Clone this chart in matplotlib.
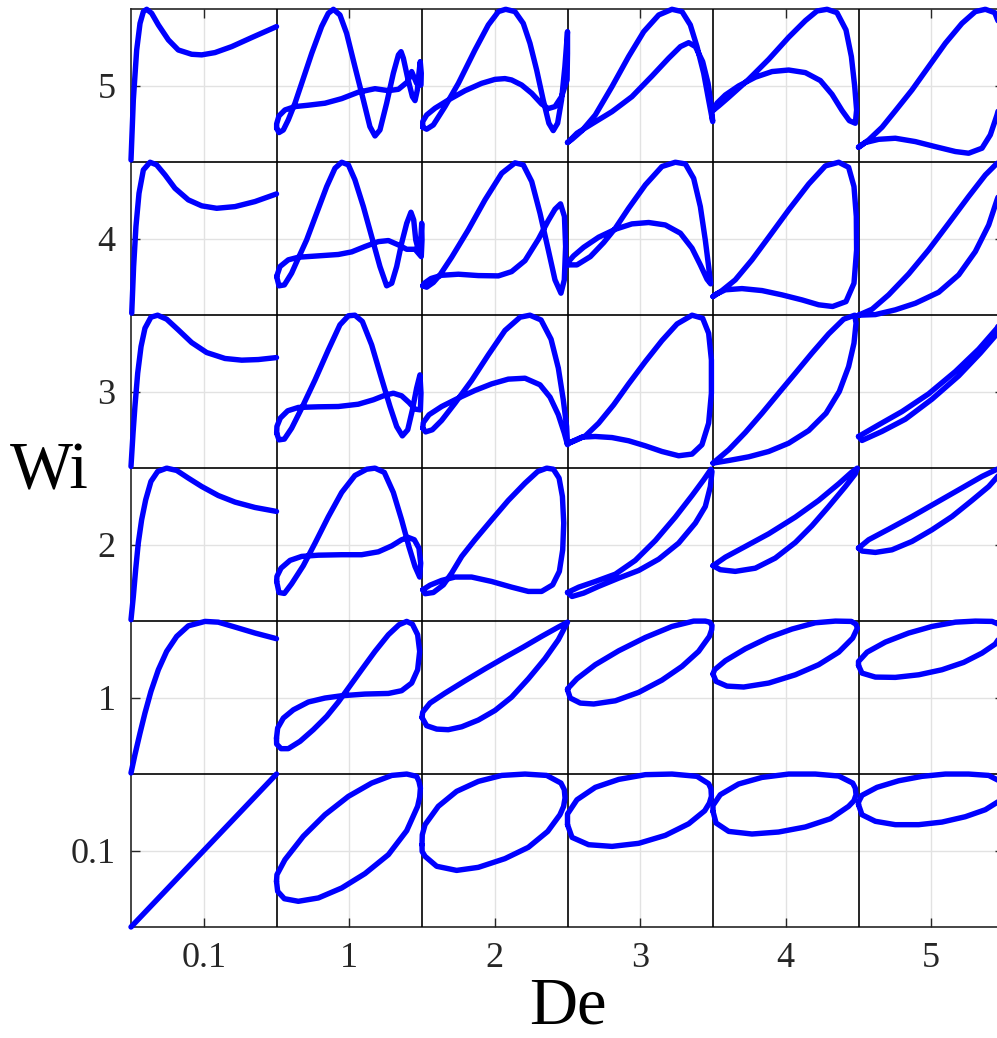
import numpy as np
import matplotlib.pyplot as plt

plt.rcParams['font.family'] = ['Liberation Serif', 'DejaVu Serif']

de_labels = ['0.1', '1', '2', '3', '4', '5']
wi_labels = ['0.1', '1', '2', '3', '4', '5']

# each curve: (shear rate, stress) normalised to 0..1 inside its own cell
# first column (De = 0.1) is an open start-up curve, the others are closed loops

## Wi = 5 ##
wi5_de01 = np.array([(0, .015), (.016, .407), (.039, .734), (.062, .908), (.085, .985), (.108, 1.0),
                     (.142, .974), (.188, .898), (.257, .80), (.325, .734), (.417, .706), (.486, .702),
                     (.577, .717), (.692, .756), (.829, .815), (1.0, .887)])
wi5_de1 = np.array([(.001, .222), (.017, .194), (.047, .211), (.081, .277), (.127, .386), (.173, .516),
                    (.242, .712), (.310, .887), (.356, .974), (.391, 1.0), (.436, .963), (.482, .843),
                    (.539, .625), (.597, .407), (.642, .233), (.677, .172), (.711, .211), (.757, .386),
                    (.803, .582), (.838, .702), (.856, .723), (.872, .680), (.902, .549), (.934, .429),
                    (.952, .403), (.968, .473), (.979, .582), (.988, .658), (.995, .582), (.993, .505),
                    (.963, .516), (.929, .593), (.902, .527), (.838, .477), (.769, .468), (.677, .481),
                    (.562, .458), (.448, .416), (.333, .386), (.219, .373), (.127, .364), (.058, .342),
                    (.017, .303), (.001, .251)])
wi5_de2 = np.array([(.005, .229), (.032, .216), (.078, .244), (.158, .364), (.250, .516), (.364, .734),
                    (.456, .898), (.525, .985), (.575, 1.0), (.639, .985), (.696, .908), (.742, .778),
                    (.788, .603), (.833, .407), (.872, .255), (.902, .207), (.932, .255), (.959, .407),
                    (.982, .625), (.996, .800), (1.0, .854), (1.0, .712), (.997, .538), (.959, .429),
                    (.914, .364), (.868, .351), (.822, .381), (.754, .451), (.685, .505), (.616, .538),
                    (.570, .547), (.502, .542), (.410, .516), (.296, .468), (.181, .407), (.089, .353),
                    (.032, .309), (.005, .266)])
wi5_de3 = np.array([(0, .129), (.031, .150), (.100, .207), (.191, .309), (.306, .495), (.420, .691),
                    (.524, .854), (.627, .963), (.718, 1.0), (.787, .985), (.844, .898), (.890, .756),
                    (.936, .582), (.970, .407), (.998, .266), (.989, .364), (.966, .516), (.929, .658),
                    (.879, .756), (.833, .782), (.776, .756), (.695, .680), (.581, .564), (.443, .429),
                    (.306, .331), (.168, .251), (.065, .190), (.008, .135)])
wi5_de4 = np.array([(.005, .342), (.039, .368), (.108, .425), (.245, .542), (.383, .673), (.520, .817),
                    (.635, .926), (.715, .989), (.784, 1.0), (.852, .978), (.914, .865), (.951, .691),
                    (.974, .495), (.987, .342), (.978, .255), (.937, .272), (.887, .338), (.818, .444),
                    (.738, .534), (.635, .586), (.520, .603), (.406, .593), (.291, .556), (.176, .499),
                    (.085, .440), (.027, .386)])
wi5_de5 = np.array([(0, .098), (.070, .146), (.162, .229), (.253, .336), (.368, .473), (.482, .625),
                    (.597, .778), (.711, .908), (.803, .985), (.872, 1.0), (.936, .978), (.975, .887),
                    (.995, .734), (1.0, .582), (.986, .429), (.952, .309), (.906, .179), (.849, .092),
                    (.757, .059), (.666, .070), (.528, .102), (.391, .135), (.253, .157), (.139, .150),
                    (.047, .129)])

## Wi = 4 ##
wi4_de01 = np.array([(.005, .013), (.018, .318), (.034, .580), (.055, .797), (.085, .950), (.131, 1.0),
                     (.176, .983), (.234, .917), (.302, .830), (.394, .754), (.486, .715), (.589, .699),
                     (.715, .710), (.852, .743), (1.0, .793)])
wi4_de1 = np.array([(.001, .253), (.017, .192), (.054, .198), (.104, .275), (.150, .373), (.207, .492),
                    (.276, .667), (.345, .841), (.402, .961), (.448, 1.0), (.494, .983), (.539, .885),
                    (.597, .710), (.654, .514), (.711, .318), (.757, .192), (.792, .209), (.826, .318),
                    (.860, .471), (.895, .601), (.924, .673), (.943, .623), (.957, .492), (.975, .427),
                    (.993, .514), (.998, .601), (1.0, .492), (.995, .383), (.952, .431), (.895, .431),
                    (.837, .460), (.769, .488), (.700, .481), (.608, .449), (.517, .414), (.425, .397),
                    (.288, .388), (.150, .379), (.081, .362), (.024, .318)])
wi4_de2 = np.array([(.005, .192), (.032, .183), (.078, .214), (.124, .264), (.204, .379), (.318, .558),
                    (.433, .754), (.548, .928), (.639, .996), (.696, .983), (.754, .874), (.811, .667),
                    (.868, .427), (.914, .231), (.955, .144), (.978, .231), (.987, .449), (.979, .645),
                    (.952, .728), (.914, .693), (.868, .619), (.800, .497), (.708, .357), (.616, .285),
                    (.525, .257), (.387, .259), (.250, .268), (.135, .261), (.062, .240), (.016, .209)])
wi4_de3 = np.array([(.003, .329), (.065, .329), (.157, .383), (.249, .475), (.329, .569), (.420, .699),
                    (.535, .852), (.649, .972), (.741, 1.0), (.810, .989), (.867, .895), (.913, .710),
                    (.947, .492), (.970, .318), (.984, .205), (.959, .235), (.913, .329), (.856, .438),
                    (.776, .536), (.672, .590), (.558, .606), (.443, .597), (.329, .562), (.214, .510),
                    (.111, .444), (.042, .388), (.008, .351)])
wi4_de4 = np.array([(0, .122), (.062, .161), (.153, .231), (.268, .362), (.383, .510), (.520, .688),
                    (.658, .858), (.772, .976), (.864, 1.0), (.932, .967), (.969, .841), (.985, .645),
                    (.987, .427), (.969, .209), (.914, .089), (.822, .057), (.726, .068), (.612, .100),
                    (.474, .133), (.337, .161), (.199, .174), (.085, .166), (.016, .135)])
wi4_de5 = np.array([(0, 0), (.093, .039), (.207, .133), (.345, .270), (.482, .427), (.620, .601),
                    (.757, .776), (.872, .917), (.952, .993), (.986, 1.0), (1.0, .950), (.986, .841),
                    (.952, .754), (.895, .590), (.803, .416), (.689, .264), (.551, .150), (.391, .078),
                    (.253, .035), (.116, .004)])

## Wi = 3 ##
wi3_de01 = np.array([(0, .011), (.014, .229), (.027, .403), (.046, .621), (.069, .795), (.096, .915),
                     (.137, .987), (.183, 1.0), (.245, .974), (.325, .904), (.417, .821), (.520, .756),
                     (.646, .717), (.761, .706), (.875, .710), (1.0, .723)])
wi3_de1 = np.array([(.001, .229), (.017, .185), (.054, .190), (.104, .261), (.173, .392), (.265, .577),
                    (.356, .773), (.436, .937), (.494, .996), (.539, 1.0), (.590, .959), (.654, .806),
                    (.718, .599), (.780, .403), (.826, .272), (.865, .211), (.902, .251), (.934, .381),
                    (.963, .523), (.986, .610), (.993, .490), (.989, .381), (.952, .386), (.911, .429),
                    (.860, .473), (.803, .490), (.746, .477), (.666, .447), (.562, .418), (.425, .403),
                    (.288, .401), (.150, .397), (.077, .375), (.026, .327), (.003, .273)])
wi3_de2 = np.array([(.005, .261), (.025, .237), (.071, .251), (.135, .312), (.227, .425), (.341, .573),
                    (.456, .741), (.570, .900), (.674, .987), (.742, 1.0), (.818, .969), (.887, .843),
                    (.937, .654), (.971, .447), (.994, .272), (1.0, .153), (.978, .229), (.937, .349),
                    (.880, .464), (.811, .545), (.708, .588), (.593, .582), (.479, .551), (.364, .508),
                    (.250, .458), (.135, .403), (.048, .349), (.009, .298)])
wi3_de3 = np.array([(0, .159), (.054, .181), (.123, .211), (.214, .294), (.317, .414), (.420, .551),
                    (.535, .697), (.649, .834), (.753, .943), (.856, 1.0), (.929, .980), (.970, .882),
                    (.989, .708), (.989, .490), (.970, .294), (.924, .153), (.856, .092), (.764, .081),
                    (.649, .109), (.535, .146), (.420, .179), (.306, .200), (.191, .207), (.100, .203),
                    (.031, .174)])
wi3_de4 = np.array([(0, .033), (.108, .120), (.222, .233), (.337, .359), (.451, .490), (.566, .621),
                    (.680, .752), (.795, .878), (.898, .974), (.974, 1.0), (.983, .948), (.969, .817),
                    (.932, .664), (.868, .501), (.777, .359), (.658, .246), (.520, .163), (.383, .109),
                    (.245, .074), (.108, .050)])
wi3_de5 = np.array([(0, .207), (.138, .283), (.299, .370), (.482, .486), (.666, .632), (.826, .778),
                    (.952, .915), (1.0, 1.0), (.952, .878), (.837, .752), (.688, .603), (.505, .451),
                    (.322, .320), (.161, .240), (.024, .181)])

## Wi = 2 ##
wi2_de01 = np.array([(0, .009), (.016, .161), (.032, .336), (.050, .510), (.073, .662), (.101, .793),
                     (.137, .913), (.183, .978), (.245, 1.0), (.314, .985), (.394, .935), (.486, .880),
                     (.600, .821), (.715, .778), (.852, .743), (1.0, .717)])
wi2_de1 = np.array([(.001, .259), (.017, .187), (.054, .181), (.104, .244), (.184, .362), (.265, .510),
                    (.356, .682), (.448, .841), (.539, .952), (.620, .993), (.677, 1.0), (.741, .972),
                    (.803, .841), (.860, .662), (.911, .484), (.952, .357), (.984, .288), (.991, .379),
                    (.979, .477), (.947, .532), (.906, .547), (.860, .532), (.792, .492), (.700, .453),
                    (.585, .434), (.448, .434), (.288, .431), (.173, .423), (.093, .397), (.031, .346),
                    (.003, .292)])
wi2_de2 = np.array([(.005, .205), (.055, .235), (.135, .266), (.227, .288), (.341, .288), (.479, .259),
                    (.616, .222), (.731, .194), (.822, .194), (.898, .237), (.944, .325), (.967, .466),
                    (.974, .641), (.965, .815), (.942, .935), (.903, .993), (.857, 1.0), (.795, .978),
                    (.708, .902), (.593, .789), (.479, .662), (.364, .532), (.273, .423), (.204, .314),
                    (.147, .237), (.078, .187), (.021, .179)])
wi2_de3 = np.array([(0, .187), (.077, .222), (.191, .259), (.329, .307), (.466, .397), (.604, .527),
                    (.741, .680), (.856, .821), (.936, .924), (.986, .993), (.993, .978), (.982, .880),
                    (.947, .749), (.879, .641), (.764, .510), (.627, .405), (.489, .331), (.352, .281),
                    (.214, .227), (.111, .183), (.031, .161)])
wi2_de4 = np.array([(0, .362), (.085, .418), (.222, .488), (.383, .571), (.566, .680), (.726, .789),
                    (.864, .898), (.951, .972), (.992, 1.0), (.978, .963), (.910, .880), (.795, .749),
                    (.680, .623), (.566, .514), (.428, .412), (.291, .346), (.153, .325), (.050, .336)])
wi2_de5 = np.array([(0, .477), (.070, .532), (.207, .601), (.368, .684), (.528, .771), (.688, .858),
                    (.849, .946), (.952, .993), (1.0, 1.0), (.952, .941), (.895, .880), (.780, .789),
                    (.643, .684), (.505, .597), (.368, .521), (.230, .466), (.116, .449), (.024, .458)])

## Wi = 1 ##
wi1_de01 = np.array([(0, .007), (.027, .126), (.062, .268), (.096, .399), (.137, .540), (.188, .682),
                     (.245, .802), (.314, .900), (.394, .969), (.509, .998), (.600, .993), (.715, .961),
                     (.852, .922), (1.0, .885)])
wi1_de1 = np.array([(0, .235), (.008, .301), (.047, .366), (.116, .420), (.219, .471), (.333, .497),
                    (.448, .512), (.608, .523), (.769, .527), (.860, .545), (.929, .595), (.970, .682),
                    (.984, .802), (.970, .911), (.934, .980), (.895, .998), (.842, .976), (.769, .911),
                    (.677, .802), (.585, .682), (.494, .562), (.425, .471), (.345, .377), (.253, .290),
                    (.162, .214), (.081, .166), (.031, .166), (.001, .196)])
wi1_de2 = np.array([(0, .370), (.032, .316), (.101, .294), (.181, .290), (.273, .309), (.387, .353),
                    (.502, .416), (.616, .503), (.731, .623), (.845, .754), (.937, .878), (1.0, .993),
                    (.937, .961), (.822, .900), (.696, .830), (.570, .763), (.433, .688), (.296, .610),
                    (.158, .529), (.055, .464), (.005, .405)])
wi1_de3 = np.array([(0, .551), (.019, .497), (.088, .464), (.180, .458), (.329, .479), (.489, .534),
                    (.649, .614), (.787, .704), (.901, .802), (.975, .900), (.991, .944), (.993, .972),
                    (.977, .993), (.947, 1.0), (.867, 1.0), (.718, .965), (.535, .893), (.352, .806),
                    (.191, .715), (.065, .623), (.001, .558)])
wi1_de4 = np.array([(0, .654), (.021, .606), (.096, .575), (.211, .569), (.383, .595), (.566, .649),
                    (.726, .715), (.864, .797), (.960, .889), (.992, .954), (.982, .980), (.951, .998),
                    (.841, 1.0), (.703, .989), (.543, .948), (.383, .893), (.222, .819), (.085, .741),
                    (.011, .682)])
wi1_de5 = np.array([(0, .710), (.024, .660), (.116, .634), (.253, .632), (.414, .649), (.574, .682),
                    (.723, .730), (.849, .791), (.940, .850), (.991, .922), (.982, .972), (.918, .998),
                    (.803, 1.0), (.666, .993), (.505, .965), (.345, .922), (.185, .863), (.059, .797),
                    (0, .736)])

## Wi = 0.1 ##
wi01_de01 = np.array([(0, 0), (.25, .25), (.5, .5), (.75, .75), (1.0, 1.0)])
wi01_de1 = np.array([(0, .298), (.008, .233), (.054, .185), (.150, .168), (.288, .190), (.448, .255),
                     (.608, .349), (.769, .473), (.895, .630), (.970, .789), (.984, .849), (.989, .908),
                     (.979, .952), (.963, .985), (.895, 1.0), (.792, .991), (.654, .941), (.494, .854),
                     (.333, .734), (.184, .593), (.058, .440), (.003, .342)])
wi01_de2 = np.array([(0, .538), (.001, .494), (.021, .462), (.101, .397), (.238, .370), (.387, .390),
                     (.570, .447), (.731, .521), (.864, .625), (.948, .734), (.973, .788), (.983, .843),
                     (.978, .898), (.955, .941), (.857, .991), (.708, 1.0), (.548, .991), (.387, .952),
                     (.238, .887), (.112, .789), (.021, .669), (.002, .603)])
wi01_de3 = np.array([(0, .669), (.031, .586), (.145, .538), (.306, .527), (.489, .547), (.672, .599),
                     (.833, .675), (.943, .760), (.975, .810), (.989, .854), (.986, .904), (.970, .937),
                     (.890, .985), (.718, 1.0), (.535, .996), (.352, .965), (.191, .913), (.065, .832),
                     (0, .739), (0, .702)])
wi01_de4 = np.array([(0, .756), (.021, .680), (.108, .625), (.268, .608), (.451, .621), (.635, .654),
                     (.807, .708), (.932, .789), (.969, .826), (.983, .865), (.978, .908), (.960, .941),
                     (.864, .987), (.703, 1.0), (.520, 1.0), (.337, .978), (.176, .935), (.050, .865),
                     (0, .795)])
wi01_de5 = np.array([(0, .800), (.024, .734), (.116, .691), (.253, .669), (.414, .669), (.574, .686),
                     (.734, .721), (.872, .767), (.963, .821), (1.0, .887), (.975, .952), (.895, .991),
                     (.757, 1.0), (.597, 1.0), (.437, .985), (.276, .956), (.127, .913), (.024, .861),
                     (0, .817)])

# rows from the bottom (Wi = 0.1) to the top (Wi = 5), columns De = 0.1 ... 5
curves = [
    [wi01_de01, wi01_de1, wi01_de2, wi01_de3, wi01_de4, wi01_de5],
    [wi1_de01, wi1_de1, wi1_de2, wi1_de3, wi1_de4, wi1_de5],
    [wi2_de01, wi2_de1, wi2_de2, wi2_de3, wi2_de4, wi2_de5],
    [wi3_de01, wi3_de1, wi3_de2, wi3_de3, wi3_de4, wi3_de5],
    [wi4_de01, wi4_de1, wi4_de2, wi4_de3, wi4_de4, wi4_de5],
    [wi5_de01, wi5_de1, wi5_de2, wi5_de3, wi5_de4, wi5_de5],
]

fig = plt.figure(figsize=(9.97, 10.38), dpi=100)
ax = fig.add_axes([131 / 997, 111 / 1038, 873 / 997, 917.7 / 1038])

for r, row in enumerate(curves):
    for c, pts in enumerate(row):
        if c > 0:
            pts = np.vstack([pts, pts[:1]])
        ax.plot(c + pts[:, 0], r + pts[:, 1], color=(0, 0, 1), lw=3.9,
                solid_joinstyle='round', solid_capstyle='round', clip_on=False, zorder=4)

# cell borders
for k in range(1, 6):
    ax.axvline(k, color='black', lw=1.2, zorder=3)
    ax.axhline(k, color='black', lw=1.2, zorder=3)

ax.set_xlim(0, 6)
ax.set_ylim(0, 6)
ax.set_xticks(np.arange(6) + 0.5)
ax.set_xticklabels(de_labels)
ax.set_yticks(np.arange(6) + 0.5)
ax.set_yticklabels(wi_labels)
ax.grid(True, color='#e2e2e2', lw=1.0, zorder=0)
ax.set_axisbelow(True)
ax.tick_params(direction='in', length=6.5, width=1, top=True, right=True,
               colors='#262626', labelsize=26, pad=11)
for s in ax.spines.values():
    s.set_color('#262626')
    s.set_linewidth(1.2)

fig.text(567.5 / 997, 1 - 1023 / 1038, 'De', ha='center', va='baseline', fontsize=48)
fig.text(49 / 997, 1 - 488 / 1038, 'Wi', ha='center', va='baseline', fontsize=48)

fig.savefig('out.png', dpi=100)
